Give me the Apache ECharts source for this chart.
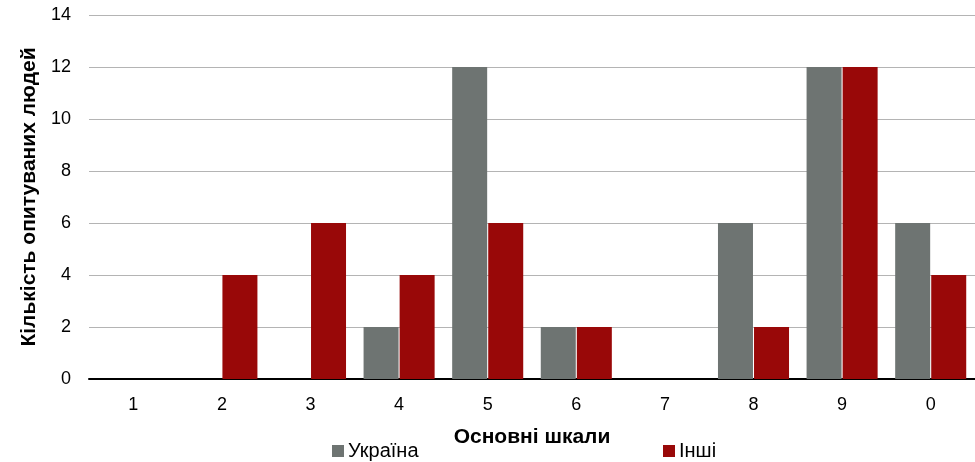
<!DOCTYPE html>
<html><head><meta charset="utf-8">
<script src="https://cdn.jsdelivr.net/npm/echarts@6/dist/echarts.min.js"></script>
<style>html,body{margin:0;padding:0;background:#fff}#c{width:975px;height:462px}</style>
</head><body><div id="c"></div>
<script>
const categories = ['1','2','3','4','5','6','7','8','9','0'];
const ukraine = [0,0,0,2,12,2,0,6,12,6];
const others = [0,4,6,4,6,2,0,2,12,4];
const seriesNames = ['Україна','Інші'];
const colors = ['#6e7472','#990808'];
const font = '"Liberation Sans", Arial, sans-serif';
const chart = echarts.init(document.getElementById('c'));
chart.setOption({
  animation:false,
  textStyle:{fontFamily:font},
  grid:{left:89,right:0,top:15,bottom:83},
  legend:[
    {data:[seriesNames[0]],left:332,top:441,padding:0,itemWidth:12,itemHeight:12,itemGap:5,icon:'rect',textStyle:{fontSize:20,color:'#000',fontFamily:font,padding:[0,0,0,-1]}},
    {data:[seriesNames[1]],left:663,top:441,padding:0,itemWidth:12,itemHeight:12,itemGap:5,icon:'rect',textStyle:{fontSize:20,color:'#000',fontFamily:font,padding:[0,0,0,-1]}}
  ],
  xAxis:{type:'category',data:categories,
    name:'Основні шкали',nameLocation:'middle',nameGap:48,
    nameTextStyle:{fontSize:21,fontWeight:'bold',color:'#000',fontFamily:font},
    axisLine:{lineStyle:{color:'#000',width:2}},axisTick:{show:false},
    axisLabel:{fontSize:18,color:'#000',margin:17,fontFamily:font}},
  yAxis:{type:'value',min:0,max:14,interval:2,
    name:'Кількість опитуваних людей',nameLocation:'middle',nameGap:47,nameRotate:90,
    nameTextStyle:{fontSize:21,fontWeight:'bold',color:'#000',fontFamily:font},
    axisLine:{show:false},axisTick:{show:false},
    axisLabel:{fontSize:18,color:'#000',margin:18,fontFamily:font},
    splitLine:{lineStyle:{color:'#b4b4b4',width:1}}},
  series:[
    {name:seriesNames[0],type:'bar',data:ukraine,barWidth:35,barGap:'3%',itemStyle:{color:colors[0]}},
    {name:seriesNames[1],type:'bar',data:others,barWidth:35,barGap:'3%',itemStyle:{color:colors[1]}}
  ]
});
</script></body></html>
